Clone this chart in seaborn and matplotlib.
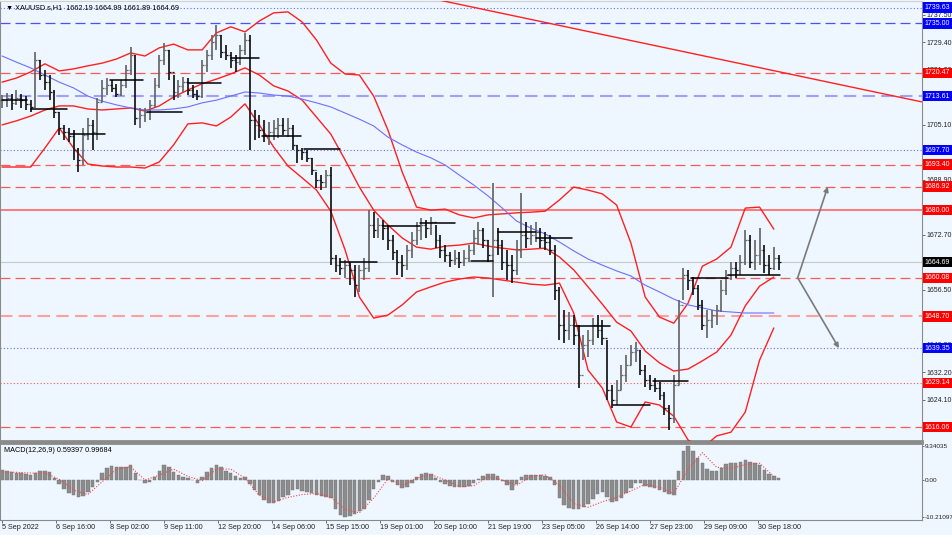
import matplotlib
matplotlib.use("Agg")
import matplotlib.pyplot as plt
import matplotlib.transforms as mtransforms
import numpy as np
import pandas as pd
import seaborn as sns

# XAUUSD H1 at one bar per 3 hours
bar_high = [
    1713.9, 1714.5, 1714.2, 1715.4, 1714.2, 1713.6, 1712.4, 1726.6, 1724.2, 1721.3,
    1719.8, 1715.4, 1708.9, 1705.1, 1704.2, 1703.6, 1698.3, 1704.2, 1707.1, 1706.5,
    1713.0, 1718.3, 1718.9, 1718.3, 1717.2, 1718.3, 1722.8, 1728.1, 1725.7, 1710.1,
    1710.1, 1712.4, 1718.9, 1725.7, 1729.2, 1727.2, 1719.8, 1718.3, 1719.2, 1718.9,
    1716.9, 1715.4, 1724.2, 1727.2, 1731.6, 1734.5, 1731.6, 1728.6, 1726.6, 1725.7,
    1728.6, 1732.2, 1731.6, 1709.5, 1708.0, 1706.5, 1706.0, 1706.5, 1707.1, 1707.1,
    1707.1, 1705.1, 1699.2, 1698.3, 1697.7, 1695.4, 1691.2, 1690.3, 1691.8, 1692.7,
    1666.8, 1665.9, 1665.3, 1664.7, 1663.8, 1663.8, 1665.9, 1680.0, 1679.4, 1677.7,
    1677.1, 1675.6, 1672.7, 1668.3, 1666.8, 1669.7, 1673.5, 1676.5, 1677.7, 1677.1,
    1678.0, 1675.6, 1672.7, 1669.7, 1667.7, 1668.3, 1667.7, 1668.3, 1669.7, 1674.1,
    1676.5, 1674.7, 1671.2, 1688.0, 1674.7, 1671.2, 1668.3, 1666.8, 1671.2, 1685.0,
    1676.5, 1675.6, 1676.5, 1674.7, 1673.5, 1672.7, 1669.7, 1657.3, 1650.6, 1650.0,
    1649.1, 1646.2, 1643.2, 1644.7, 1648.2, 1649.1, 1647.6, 1641.7, 1628.5, 1629.9,
    1634.4, 1637.3, 1640.3, 1641.1, 1638.8, 1634.4, 1631.4, 1630.5, 1629.4, 1626.4,
    1622.6, 1631.4, 1653.5, 1662.9, 1662.4, 1660.3, 1657.9, 1653.5, 1650.6, 1650.6,
    1652.1, 1659.4, 1662.4, 1664.7, 1664.7, 1666.8, 1674.1, 1672.7, 1671.2, 1674.7,
    1669.7, 1666.8, 1669.1, 1666.8,
]
bar_low = [
    1710.1, 1710.4, 1709.5, 1711.0, 1710.1, 1709.5, 1708.9, 1710.1, 1718.3, 1715.4,
    1712.4, 1707.1, 1702.1, 1700.7, 1700.1, 1694.8, 1691.2, 1693.3, 1700.7, 1697.7,
    1700.7, 1711.8, 1713.9, 1714.8, 1713.3, 1713.6, 1716.0, 1719.8, 1705.1, 1704.2,
    1706.0, 1706.5, 1710.1, 1716.0, 1722.8, 1718.3, 1712.4, 1713.0, 1714.8, 1713.9,
    1713.0, 1712.4, 1713.0, 1720.7, 1724.2, 1727.2, 1724.8, 1724.2, 1721.9, 1720.7,
    1722.8, 1725.7, 1697.7, 1700.7, 1701.2, 1700.1, 1699.2, 1700.7, 1701.2, 1702.1,
    1701.5, 1697.7, 1693.9, 1694.8, 1694.2, 1690.3, 1686.5, 1685.9, 1686.5, 1663.8,
    1661.8, 1660.9, 1660.0, 1657.9, 1654.4, 1655.9, 1659.4, 1661.8, 1671.8, 1671.8,
    1671.2, 1668.3, 1665.3, 1660.9, 1660.3, 1662.4, 1665.9, 1669.7, 1671.2, 1671.8,
    1672.7, 1668.8, 1665.9, 1664.7, 1663.2, 1663.8, 1662.9, 1663.5, 1664.7, 1666.8,
    1669.7, 1668.8, 1664.7, 1654.4, 1666.8, 1662.4, 1659.4, 1658.5, 1660.9, 1665.9,
    1668.8, 1669.7, 1670.6, 1668.8, 1668.3, 1666.8, 1653.5, 1641.7, 1640.9, 1641.7,
    1640.3, 1627.6, 1635.8, 1636.7, 1640.3, 1642.3, 1640.3, 1624.1, 1621.7, 1622.6,
    1627.0, 1629.4, 1634.4, 1635.3, 1631.4, 1627.9, 1627.0, 1626.4, 1624.1, 1619.6,
    1615.2, 1617.3, 1628.5, 1653.5, 1656.5, 1655.0, 1650.6, 1644.7, 1642.3, 1645.3,
    1646.2, 1650.0, 1655.0, 1659.4, 1660.0, 1660.9, 1663.8, 1662.9, 1662.4, 1663.8,
    1661.5, 1660.9, 1662.4, 1662.4,
]
bar_close = [
    1712.4, 1713.0, 1711.6, 1713.0, 1712.4, 1711.3, 1710.4, 1724.2, 1719.8, 1717.7,
    1714.8, 1708.9, 1704.2, 1703.0, 1701.8, 1697.7, 1694.8, 1702.1, 1705.1, 1703.0,
    1711.8, 1716.0, 1716.9, 1716.0, 1714.2, 1716.9, 1721.3, 1725.7, 1707.1, 1708.0,
    1708.9, 1711.0, 1716.9, 1724.2, 1727.2, 1720.7, 1714.8, 1716.6, 1717.7, 1715.4,
    1714.2, 1713.6, 1722.8, 1725.7, 1729.5, 1731.6, 1726.6, 1725.7, 1724.2, 1723.6,
    1727.2, 1730.1, 1706.5, 1705.1, 1703.6, 1702.1, 1703.0, 1704.2, 1705.1, 1703.6,
    1704.2, 1699.2, 1697.7, 1697.1, 1695.4, 1691.8, 1688.9, 1688.3, 1690.3, 1665.9,
    1663.8, 1662.9, 1663.8, 1662.4, 1657.9, 1662.4, 1662.9, 1675.6, 1674.1, 1675.6,
    1674.7, 1671.2, 1667.7, 1664.7, 1663.8, 1668.3, 1671.2, 1674.1, 1675.6, 1674.7,
    1676.5, 1671.2, 1668.3, 1666.8, 1665.3, 1665.9, 1664.7, 1665.9, 1668.3, 1671.8,
    1674.1, 1671.2, 1666.8, 1671.2, 1669.7, 1664.7, 1663.8, 1662.4, 1668.3, 1672.7,
    1671.8, 1672.7, 1673.5, 1671.2, 1670.6, 1668.3, 1656.5, 1646.2, 1644.7, 1646.2,
    1643.2, 1631.4, 1640.3, 1641.7, 1646.2, 1644.7, 1642.3, 1627.0, 1624.1, 1627.0,
    1631.4, 1634.4, 1638.2, 1638.8, 1632.9, 1629.9, 1628.5, 1627.6, 1625.5, 1621.7,
    1618.8, 1628.5, 1652.1, 1660.9, 1659.4, 1657.1, 1652.1, 1646.2, 1647.6, 1649.1,
    1650.6, 1656.5, 1660.9, 1662.9, 1662.4, 1664.7, 1671.2, 1664.7, 1666.8, 1668.3,
    1663.8, 1662.9, 1665.9, 1664.69,
]

# bollinger bands and slow MA, one value every 9 hours
bb_upper = [
    1717.7, 1718.9, 1720.7, 1723.1, 1721.0, 1721.6, 1722.5, 1723.3, 1724.5, 1726.3,
    1725.4, 1727.8, 1728.9, 1727.2, 1727.2, 1732.2, 1734.0, 1732.5, 1735.7, 1738.1,
    1738.4, 1735.4, 1730.1, 1723.3, 1720.1, 1719.8, 1713.6, 1703.6, 1691.2, 1680.9,
    1680.0, 1680.3, 1678.6, 1677.7, 1678.6, 1678.9, 1679.2, 1679.4, 1679.7, 1683.0,
    1686.8, 1685.9, 1684.8, 1681.5, 1670.3, 1654.4, 1648.5, 1646.7, 1652.6, 1663.5,
    1665.6, 1669.1, 1680.6, 1680.9, 1674.4,
]
bb_mid = [
    1705.1, 1706.3, 1707.7, 1709.5, 1710.7, 1710.7, 1709.8, 1709.5, 1709.8, 1710.1,
    1709.2, 1710.7, 1713.3, 1715.4, 1717.2, 1718.6, 1720.1, 1721.9, 1719.8, 1716.6,
    1715.1, 1712.4, 1707.4, 1702.4, 1694.8, 1686.8, 1680.0, 1675.6, 1671.8, 1669.1,
    1668.5, 1669.4, 1669.7, 1670.3, 1669.4, 1668.8, 1668.3, 1668.5, 1668.8, 1666.2,
    1662.4, 1657.4, 1652.3, 1647.0, 1644.4, 1638.5, 1635.0, 1632.6, 1633.2, 1635.6,
    1638.2, 1643.2, 1651.8, 1657.6, 1660.3,
]
bb_lower = [
    1692.7, 1692.7, 1692.7, 1698.3, 1704.2, 1698.3, 1693.6, 1693.0, 1692.7, 1692.7,
    1692.4, 1694.2, 1699.2, 1705.4, 1705.7, 1704.8, 1707.4, 1711.3, 1705.1, 1698.6,
    1693.0, 1689.5, 1685.9, 1679.7, 1668.3, 1654.4, 1648.2, 1649.1, 1652.1, 1655.9,
    1657.4, 1658.8, 1659.7, 1660.3, 1660.0, 1659.4, 1658.8, 1658.2, 1657.9, 1658.5,
    1649.7, 1632.9, 1627.6, 1617.6, 1616.1, 1623.5, 1622.6, 1619.3, 1612.3, 1609.9,
    1613.5, 1614.6, 1620.5, 1635.8, 1645.3,
]
ma_slow = [
    1725.4, 1723.6, 1721.9, 1719.8, 1717.7, 1716.0, 1713.6, 1712.1, 1711.0, 1710.1,
    1709.5, 1709.5, 1709.8, 1710.4, 1711.6, 1712.4, 1713.6, 1714.8, 1714.5, 1713.9,
    1713.6, 1712.7, 1711.6, 1710.4, 1708.6, 1706.8, 1704.8, 1701.5, 1699.2, 1697.1,
    1695.4, 1693.3, 1690.3, 1687.4, 1684.2, 1680.6, 1676.8, 1674.7, 1673.0, 1670.6,
    1668.0, 1665.6, 1663.8, 1662.1, 1660.6, 1657.9, 1655.9, 1653.8, 1652.1, 1651.2,
    1650.3, 1650.0, 1649.7, 1649.7, 1649.7,
]

# MACD(12,26,9)
macd_hist = [
    2.8, 2.5, 2.2, 2.0, 1.9, 1.7, 1.5, 1.9, 2.5, 2.6,
    2.2, 0.6, -1.2, -2.6, -3.6, -4.0, -4.6, -4.4, -3.2, -2.0,
    -0.5, 1.8, 3.2, 3.8, 3.6, 3.5, 3.7, 4.1, 2.0, 0.0,
    -0.8, -0.6, 0.8, 2.6, 4.1, 3.6, 2.2, 1.5, 0.8, 0.5,
    0.0, -0.7, 0.8, 2.3, 3.4, 4.1, 3.5, 2.5, 1.8, 1.0,
    0.5, 0.9, -1.0, -2.8, -4.2, -5.5, -6.2, -6.4, -5.8, -4.8,
    -4.0, -2.8, -2.6, -3.1, -3.4, -3.7, -4.1, -4.3, -4.6, -5.0,
    -8.0, -9.6, -10.2, -10.0, -9.4, -8.5, -8.0, -5.5, -2.5, -0.5,
    1.4, 1.0, -0.6, -1.5, -2.3, -2.0, -0.9, 0.8, 1.7, 1.9,
    1.6, 0.6, -0.5, -1.0, -1.6, -1.8, -2.0, -2.0, -1.6, -0.9,
    0.2, 1.2, 1.6, 1.7, 1.2, -0.3, -1.5, -2.7, -1.2, 0.8,
    1.3, 1.4, 1.5, 1.4, 1.2, 0.8, -1.5, -5.0, -6.8, -7.6,
    -8.0, -8.1, -7.5, -6.5, -5.2, -3.8, -3.2, -4.8, -6.0, -5.8,
    -5.0, -3.7, -2.3, -0.9, -0.8, -1.6, -2.0, -2.3, -2.7, -3.2,
    -3.8, -4.0, 2.5, 8.0, 9.3, 8.0, 6.0, 4.6, 3.0, 2.6,
    2.6, 3.2, 4.3, 4.6, 4.6, 5.0, 5.5, 5.0, 4.8, 4.2,
    2.8, 1.6, 1.0, 0.59397,
]
macd_signal = [
    2.2, 2.1, 1.9, 1.9, 0.2, -2.8, -4.0, -0.5, 3.0, 3.6,
    0.0, 1.3, 3.0, 1.0, -0.2, 3.0, 3.0, 0.5, -4.2, -6.0,
    -4.8, -4.0, -3.7, -4.6, -8.2, -9.0, -5.0, 0.3, -1.5, 0.5,
    1.5, 0.0, -1.8, -1.6, 0.9, 0.0, -1.5, 1.0, 1.4, -1.5,
    -6.5, -7.5, -6.0, -4.8, -3.0, -1.2, -2.0, -3.7, 3.0, 7.5,
    3.5, 3.2, 4.2, 4.6, 0.99684,
]

# drawn levels
level_prices = [1739.63, 1735.00, 1720.47, 1713.61, 1697.70, 1693.40, 1686.92,
                1680.00, 1660.08, 1648.70, 1639.35, 1629.14, 1616.06]
last_price = 1664.69

# daily reference segments: (from hour, to hour, price)
day_segments = [
    (0, 16, 1712.4), (18, 41, 1709.8), (43, 65, 1702.4), (68, 89, 1718.3),
    (91, 113, 1708.9), (117, 138, 1717.4), (144, 162, 1724.8), (164, 188, 1701.8),
    (190, 213, 1698.0), (213, 236, 1664.7), (240, 263, 1675.3), (263, 285, 1676.2),
    (295, 309, 1665.0), (312, 336, 1673.6), (336, 359, 1671.8), (361, 383, 1645.9),
    (385, 408, 1622.6), (410, 432, 1629.7), (434, 457, 1660.0), (457, 490, 1660.9),
]
trend_points = [(275, 1741.9), (579, 1711.9)]
arrow_from = (501, 1660.08)
arrow_targets = [(520, 1686.92), (527, 1639.35)]

time_labels = ["5 Sep 2022", "6 Sep 16:00", "8 Sep 02:00", "9 Sep 11:00", "12 Sep 20:00",
               "14 Sep 06:00", "15 Sep 15:00", "19 Sep 01:00", "20 Sep 10:00",
               "21 Sep 19:00", "23 Sep 05:00", "26 Sep 14:00", "27 Sep 23:00",
               "29 Sep 09:00", "30 Sep 18:00"]
# scale ticks that stay (partly) visible next to the level tags
price_ticks = [1737.5, 1729.4, 1721.3, 1705.1, 1688.9, 1680.8,
               1672.7, 1656.5, 1640.3, 1632.2, 1624.1]

BG = "#eef6ff"
RED = "#ff5a5a"

sns.set_style("white", {"axes.facecolor": BG, "figure.facecolor": BG})
plt.rcParams["font.family"] = ["Liberation Sans", "DejaVu Sans"]

fig = plt.figure(figsize=(9.53, 5.35), dpi=100)
W, H = 953.0, 535.0
ax = fig.add_axes([0.0, 1 - 441 / H, 922 / W, 440 / H])
axm = fig.add_axes([0.0, 1 - 520 / H, 922 / W, 77 / H])

bar_hours = np.arange(len(bar_close)) * 3
band_hours = np.arange(len(bb_mid)) * 9
bar_open = [bar_close[0]] + bar_close[:-1]

# levels
level_styles = {
    1739.63: ("#6a6aff", (0, (1, 2)), 0.8, "#0000ff"),
    1735.00: ("#5050ff", (0, (8, 4)), 0.9, "#0000ff"),
    1720.47: (RED, (0, (8, 4)), 0.9, "#ff0000"),
    1713.61: ("#a0a0ff", (0, (6, 3)), 1.5, "#0000ff"),
    1697.70: ("#6a6aff", (0, (1, 2)), 0.8, "#0000ff"),
    1693.40: (RED, (0, (8, 4)), 0.9, "#ff0000"),
    1686.92: (RED, (0, (8, 4)), 0.9, "#ff0000"),
    1680.00: ("#ff6f6f", "-", 1.3, "#ff0000"),
    1660.08: (RED, (0, (8, 4)), 0.9, "#ff0000"),
    1648.70: ("#ffa0a0", (0, (6, 3)), 1.5, "#ff0000"),
    1639.35: ("#6a6aff", (0, (1, 2)), 0.8, "#0000ff"),
    1629.14: (RED, (0, (1, 2)), 0.8, "#ff0000"),
    1616.06: (RED, (0, (8, 4)), 0.9, "#ff0000"),
}
ax.axhline(last_price, color="#c8c8c8", lw=0.8, zorder=1)
for p in level_prices:
    c, ls, lw, _ = level_styles[p]
    ax.axhline(p, color=c, ls=ls, lw=lw, zorder=1)

# bollinger + slow MA
bands = pd.DataFrame({"hour": band_hours, "upper": bb_upper, "mid": bb_mid, "lower": bb_lower})
bands = bands.melt(id_vars="hour", var_name="band", value_name="price")
sns.lineplot(data=bands, x="hour", y="price", units="band", estimator=None,
             color="#ff2020", lw=1.0, ax=ax, zorder=3)
sns.lineplot(x=band_hours, y=ma_slow, color="#6f6fff", lw=0.8, ax=ax, zorder=3)

# price bars
cols = ["#151515" if c < o else "#666666" for o, c in zip(bar_open, bar_close)]
ax.vlines(bar_hours, bar_low, bar_high, colors=cols, lw=1.25, zorder=4)
ax.hlines(bar_open, bar_hours - 1.2, bar_hours, colors=cols, lw=0.9, zorder=4)
ax.hlines(bar_close, bar_hours, bar_hours + 1.2, colors=cols, lw=0.9, zorder=4)

for x0, x1, p in day_segments:
    ax.plot([x0, x1], [p, p], color="black", lw=1.1, zorder=5)

(tx0, ty0), (tx1, ty1) = trend_points
ax.plot([tx0, tx1], [ty0, ty1], color="#ff2020", lw=1.0, zorder=3)

for tgt in arrow_targets:
    ax.annotate("", xy=tgt, xytext=arrow_from,
                arrowprops=dict(arrowstyle="-|>", color="#7a7a7a", lw=1.2,
                                mutation_scale=7, shrinkA=0, shrinkB=0), zorder=6)

ax.set_xlim(-1.3, 579.3)
ax.set_ylim(1612.0, 1741.6)
ax.set_xticks([])
ax.set_xlabel("")
ax.set_ylabel("")
ax.yaxis.tick_right()
ax.set_yticks(price_ticks)
ax.set_yticklabels([f"{t:.2f}" for t in price_ticks])
ax.tick_params(axis="y", labelsize=5.0, length=2.5, width=0.6, pad=1,
               color="#555555", labelcolor="#222222", right=True)

ax.text(0.007, 0.994, "\u25bc XAUUSD.s,H1  1662.19 1664.99 1661.89 1664.69",
        transform=ax.transAxes, fontsize=5.2, va="top", ha="left", color="black")

# level tags on price scale
trans = mtransforms.blended_transform_factory(ax.transAxes, ax.transData)
tags = [(p, level_styles[p][3]) for p in level_prices] + [(last_price, "#000000")]
for p, bc in tags:
    ax.text(1.003, p, f"{p:.2f}", transform=trans, fontsize=5.0, color="white",
            ha="left", va="center", clip_on=False, zorder=20,
            bbox=dict(boxstyle="square,pad=0.25", fc=bc, ec="none"))

# MACD panel
axm.bar(bar_hours, macd_hist, width=2.2, color="#8c8c8c", edgecolor="#707070",
        lw=0.3, zorder=2)
sns.lineplot(x=band_hours, y=macd_signal, color="#ff4040", lw=0.8,
             linestyle=(0, (1, 1.5)), ax=axm, zorder=3)
axm.set_xlim(-1.3, 579.3)
axm.set_ylim(-11.0, 10.16)
axm.yaxis.tick_right()
axm.set_yticks([9.34035, 0.0, -10.21097])
axm.set_yticklabels(["9.34035", "0.00", "-10.21097"])
axm.tick_params(axis="y", labelsize=4.6, length=1.5, width=0.6, pad=0.5,
                color="#555555", labelcolor="#222222", right=True)
tick_hours = np.arange(len(time_labels)) * 34
axm.set_xticks(tick_hours)
axm.set_xticklabels(time_labels, ha="left")
axm.tick_params(axis="x", labelsize=5.2, length=2, width=0.6, pad=1,
                color="#555555", labelcolor="#222222", bottom=True)
axm.set_xlabel("")
axm.set_ylabel("")
axm.text(0.004, 0.95, "MACD(12,26,9) 0.59397 0.99684", transform=axm.transAxes,
         fontsize=5.2, va="top", ha="left", color="black")

for a in (ax, axm):
    for s in a.spines.values():
        s.set_color("#8a8a8a")
        s.set_linewidth(0.8)
ax.spines["bottom"].set_linewidth(2.0)
axm.spines["top"].set_linewidth(2.0)
ax.spines["top"].set_color("#d0d0d0")

fig.savefig("out.png", dpi=100, facecolor=BG)
